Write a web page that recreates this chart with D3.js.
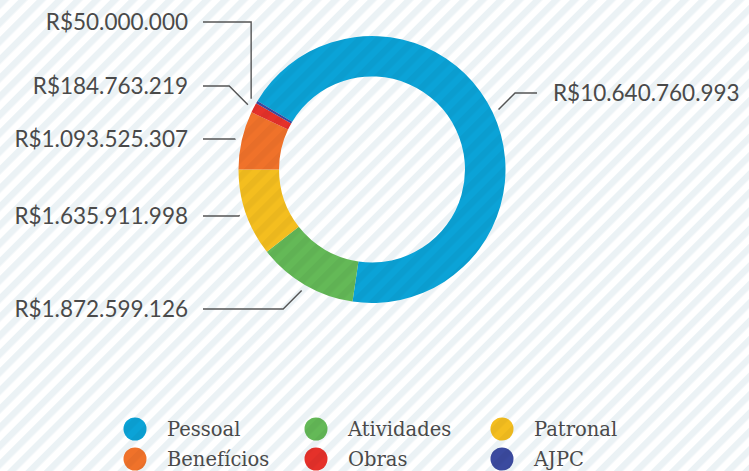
<!DOCTYPE html>
<html>
<head>
<meta charset="utf-8">
<script src="https://cdn.jsdelivr.net/npm/d3@7"></script>
<style>
  html, body { margin: 0; padding: 0; background: #fff; }
  #chart { width: 749px; height: 471px; }
</style>
</head>
<body>
<div id="chart"></div>
<script>
// categories and values (R$)
var categories = ["Pessoal", "Atividades", "Patronal", "Benefícios", "Obras", "AJPC"];
var values = [10640760993, 1872599126, 1635911998, 1093525307, 184763219, 50000000];
var labels = ["R$10.640.760.993", "R$1.872.599.126", "R$1.635.911.998", "R$1.093.525.307", "R$184.763.219", "R$50.000.000"];
var colors = ["#0ba3d7", "#64b957", "#f4be1f", "#f0722a", "#e5312a", "#3b4a9f"];
// legend order (2 rows x 3 columns)
var legendOrder = ["Pessoal", "Atividades", "Patronal", "Benefícios", "Obras", "AJPC"];

var W = 749, H = 471;
var cx = 372, cy = 169.5, rOuter = 133.5, rInner = 93;

var svg = d3.select('#chart')
    .append("svg")
    .attr("width", W)
    .attr("height", H);

var defs = svg.append("defs");

// striped background
var bg = defs.append("pattern")
    .attr("id", "stripes")
    .attr("patternUnits", "userSpaceOnUse")
    .attr("width", 13).attr("height", 13)
    .attr("patternTransform", "rotate(45)");
bg.append("rect").attr("width", 13).attr("height", 13).attr("fill", "#ffffff");
bg.append("rect").attr("width", 6.5).attr("height", 13).attr("fill", "#ebf2f5");

// subtle darker stripes on the coloured marks
var ov = defs.append("pattern")
    .attr("id", "stripesDark")
    .attr("patternUnits", "userSpaceOnUse")
    .attr("width", 13).attr("height", 13)
    .attr("patternTransform", "rotate(45)");
ov.append("rect").attr("width", 6.5).attr("height", 13).attr("fill", "rgba(0,0,0,0.035)");

svg.append("rect")
    .attr("width", W).attr("height", H)
    .attr("fill", "url(#stripes)");

var data = categories.map(function(c, i) {
    return { name: c, value: values[i], label: labels[i], color: colors[i] };
});

// the Patronal / Benefícios boundary sits exactly at 9 o'clock
var tailSum = d3.sum(values.slice(3));
var total = d3.sum(values);
var start = -Math.PI / 2 + 2 * Math.PI * tailSum / total;

var pie = d3.pie()
    .value(function(d) { return d.value; })
    .sort(null)
    .startAngle(start)
    .endAngle(start + 2 * Math.PI);

var arc = d3.arc().innerRadius(rInner).outerRadius(rOuter);
var anchorArc = d3.arc().innerRadius(140).outerRadius(140);

var arcs = pie(data);

var g = svg.append("g").attr("transform", "translate(" + cx + "," + cy + ")");

g.selectAll("path.slice")
    .data(arcs)
    .enter()
    .append("path")
    .attr("class", "slice")
    .attr("d", arc)
    .attr("fill", function(d) { return d.data.color; });

g.selectAll("path.over")
    .data(arcs)
    .enter()
    .append("path")
    .attr("class", "over")
    .attr("d", arc)
    .attr("fill", "url(#stripesDark)");

// label layout: y of each label, and whether the leader goes diagonal or vertical
var labelY = [93, 309, 216, 139, 86, 22];
var legKind = ["diag", "diag", "diag", "diag", "diag", "vert"];

var lineG = svg.append("g");
arcs.forEach(function(d, i) {
    var c = anchorArc.centroid(d);
    var ax = cx + c[0], ay = cy + c[1];
    var right = c[0] > 0;
    var y = labelY[i];
    var dy = Math.abs(y - ay);
    var ex;
    if (legKind[i] == "vert") ex = ax;
    else ex = right ? ax + dy : ax - dy;
    var endX = right ? 537 : 203;
    var pts = [[ax, ay], [ex, y], [endX, y]];
    lineG.append("path")
        .attr("d", d3.line()(pts))
        .attr("fill", "none")
        .attr("stroke", "#555")
        .attr("stroke-width", 1.4);
    lineG.append("text")
        .attr("x", right ? 553 : 188)
        .attr("y", y + 8)
        .attr("text-anchor", right ? "start" : "end")
        .attr("font-family", "Lato, sans-serif")
        .attr("font-size", 22.5)
        .attr("fill", "#4a4a4a")
        .text(d.data.label);
});

// legend
var colX = [135, 316, 502];
var rowY = [429, 459];
var leg = svg.append("g");
legendOrder.forEach(function(name, k) {
    var i = categories.indexOf(name);
    var x = colX[k % 3], y = rowY[Math.floor(k / 3)];
    leg.append("circle").attr("cx", x).attr("cy", y).attr("r", 11.5).attr("fill", colors[i]);
    leg.append("circle").attr("cx", x).attr("cy", y).attr("r", 11.5).attr("fill", "url(#stripesDark)");
    leg.append("text")
        .attr("x", x + 32)
        .attr("y", y + 6.5)
        .attr("font-family", "DejaVu Serif, serif")
        .attr("font-size", 19.5)
        .attr("fill", "#4a4a4a")
        .text(name);
});
</script>
</body>
</html>
